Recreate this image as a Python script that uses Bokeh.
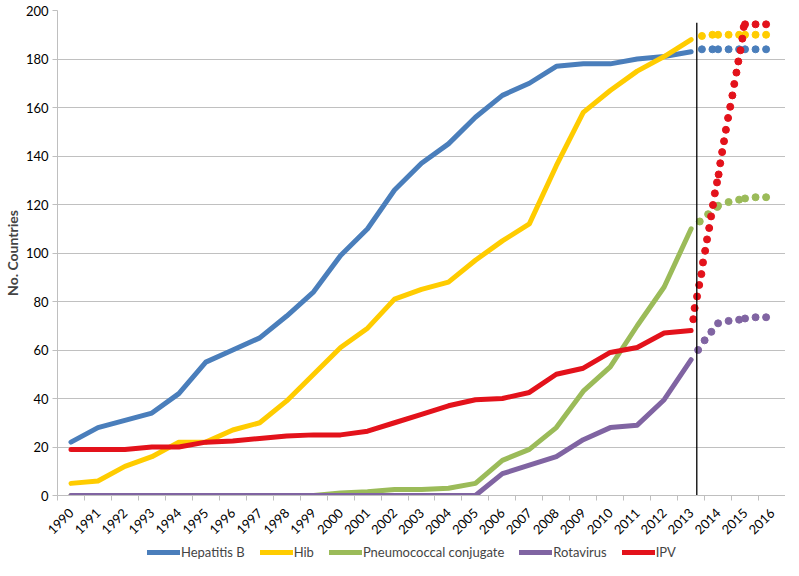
import math
from bokeh.plotting import figure
from bokeh.layouts import column
from bokeh.models import FixedTicker, Range1d, Legend, LegendItem
from bokeh.embed import file_html
from bokeh.resources import INLINE

# ---- data ----
years = list(range(1990, 2014))
axis_years = list(range(1990, 2017))
hepb = [22, 28, 31, 34, 42, 55, 60, 65, 74, 84, 99, 110, 126, 137, 145, 156, 165, 170, 177, 178, 178, 180, 181, 183]
hib = [5, 6, 12, 16, 22, 22, 27, 30, 39, 50, 61, 69, 81, 85, 88, 97, 105, 112, 136, 158, 167, 175, 181, 188]
pcv = [0, 0, 0, 0, 0, 0, 0, 0, 0, 0, 1, 1.5, 2.5, 2.5, 3, 5, 14.5, 19, 28, 43, 53, 70, 86, 110]
rota = [0, 0, 0, 0, 0, 0, 0, 0, 0, 0, 0, 0, 0, 0, 0, 0, 9, 12.5, 16, 23, 28, 29, 39.5, 56]
ipv = [19, 19, 19, 20, 20, 22, 22.5, 23.5, 24.5, 25, 25, 26.5, 30, 33.5, 37, 39.5, 40, 42.5, 50, 52.5, 59, 61, 67, 68]

# projected (dotted) values
hepb_proj_x = [2013.40, 2013.79, 2014.0, 2014.39, 2014.78, 2015.0, 2015.39, 2015.78]
hepb_proj = [184, 184, 184, 184, 184, 184, 184, 184]
hib_proj_x = [2013.40, 2013.79, 2014.0, 2014.39, 2014.78, 2015.0, 2015.39, 2015.78]
hib_proj = [189.5, 190, 190, 190, 190, 190, 190, 190]
pcv_proj_x = [2013.32, 2013.63, 2013.97, 2014.0, 2014.39, 2014.78, 2015.0, 2015.39, 2015.78]
pcv_proj = [113, 116, 119, 119.5, 121, 122, 122.5, 123, 123]
rota_proj_x = [2013.26, 2013.50, 2013.75, 2014.0, 2014.39, 2014.78, 2015.0, 2015.39, 2015.78]
rota_proj = [60, 64, 67.5, 71, 72, 72.5, 73, 73.5, 73.5]
ipv_proj_x = [2013.08, 2013.13, 2013.22, 2013.30, 2013.38, 2013.44, 2013.52, 2013.59, 2013.67,
              2013.74, 2013.81, 2013.88, 2013.96, 2014.02, 2014.08, 2014.15, 2014.22, 2014.29,
              2014.37, 2014.45, 2014.53, 2014.60, 2014.68, 2014.75, 2014.83, 2014.90, 2014.95,
              2015.00, 2015.39, 2015.78]
ipv_proj = [72.7, 77.3, 82.1, 86.8, 91.3, 96.1, 100.9, 105.6, 110.3, 115.1, 119.8, 124.6, 129.1,
            132.4, 137, 141.6, 146.1, 150.8, 155.7, 160.3, 165, 169.7, 174.4, 179, 183.6, 188.4,
            193.2, 194.3, 194.3, 194.3]

divider_x = 2013.21
divider_top = 195

names = ["Hepatitis B", "Hib", "Pneumococcal conjugate", "Rotavirus", "IPV"]
colors = ["#4a7ebb", "#ffcc00", "#9bbb59", "#8064a2", "#e3121b"]

FONT = "Lato"

p = figure(output_backend="svg", toolbar_location=None,
           x_range=Range1d(1989.5, 2016.5), y_range=Range1d(0, 200),
           min_border_left=0, min_border_right=0, min_border_top=10, min_border_bottom=0)
p.frame_width = 728
p.frame_height = 485
p.outline_line_color = None
p.background_fill_color = "white"

# axes
p.xaxis.ticker = FixedTicker(ticks=axis_years, minor_ticks=[y - 0.5 for y in axis_years] + [2016.5])
p.xaxis.major_tick_line_color = None
p.xaxis.minor_tick_line_color = "#bfbfbf"
p.xaxis.minor_tick_out = 5
p.xaxis.minor_tick_in = 0
p.xaxis.major_label_orientation = math.pi / 4
p.xaxis.major_label_standoff = 9
p.xaxis.axis_line_color = "#bfbfbf"
p.yaxis.ticker = FixedTicker(ticks=list(range(0, 201, 20)))
p.yaxis.axis_line_color = "#bfbfbf"
p.yaxis.major_tick_line_color = "#bfbfbf"
p.yaxis.major_tick_out = 5
p.yaxis.major_tick_in = 0
p.yaxis.minor_tick_line_color = None
p.yaxis.major_label_standoff = 4
for ax in (p.xaxis, p.yaxis):
    ax.major_label_text_font = FONT
    ax.major_label_text_font_size = "13px"
    ax.major_label_text_color = "#000000"
p.yaxis.axis_label = "No. Countries"
p.yaxis.axis_label_text_font = FONT
p.yaxis.axis_label_text_font_style = "bold"
p.yaxis.axis_label_text_font_size = "14px"
p.yaxis.axis_label_standoff = 2
p.xgrid.grid_line_color = None
p.ygrid.grid_line_color = "#c0c0c0"
p.ygrid.grid_line_width = 1

series = [(hepb, hepb_proj_x, hepb_proj), (hib, hib_proj_x, hib_proj), (pcv, pcv_proj_x, pcv_proj),
          (rota, rota_proj_x, rota_proj), (ipv, ipv_proj_x, ipv_proj)]
for (vals, px, pv), c in zip(series, colors):
    p.line(years, vals, line_width=5, color=c, line_cap="round", line_join="round")
for (vals, px, pv), c in zip(series, colors):
    p.scatter(px, pv, size=7, color=c, marker="circle")

p.segment(x0=[divider_x], y0=[0], x1=[divider_x], y1=[divider_top], color="black", line_width=1.3)

# legend strip below the chart (its series lines sit outside the strip's visible range)
lg = figure(output_backend="svg", toolbar_location=None, width=789, height=22,
            x_range=Range1d(1989.5, 2016.5), y_range=Range1d(1000, 1001),
            x_axis_location=None, y_axis_location=None,
            min_border_left=0, min_border_right=0, min_border_top=0, min_border_bottom=0)
lg.outline_line_color = None
lg.grid.grid_line_color = None
items = []
for (vals, px, pv), name, c in zip(series, names, colors):
    r = lg.line(years, vals, line_width=5, color=c, line_cap="round")
    items.append(LegendItem(label=name, renderers=[r]))
legend = Legend(items=items, orientation="horizontal", location=(90, 3),
                glyph_width=33, glyph_height=10, label_standoff=1, spacing=15,
                border_line_color=None, background_fill_alpha=0, padding=0, margin=0,
                label_text_font=FONT, label_text_font_size="13px")
lg.add_layout(legend, "center")

layout = column(p, lg, spacing=0)
open("out.html", "w").write(file_html(layout, INLINE))
